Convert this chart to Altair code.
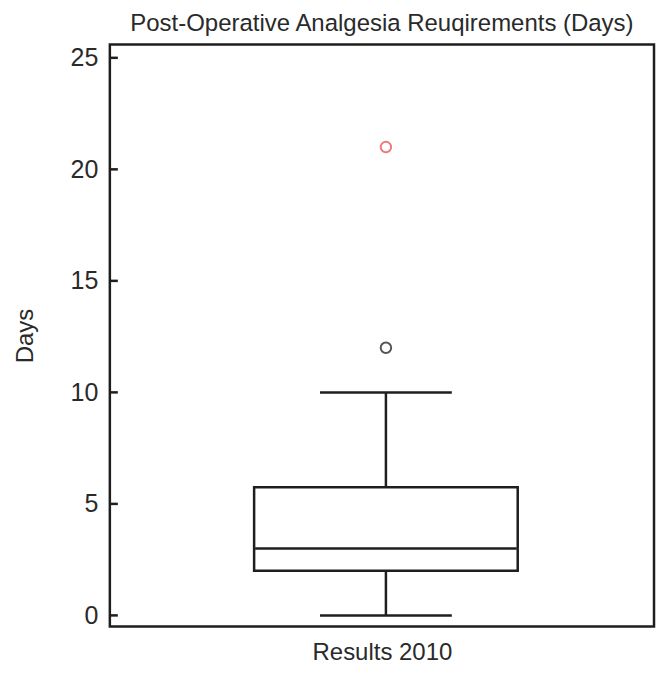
import altair as alt
import pandas as pd

# Summary statistics
group = ["Results 2010"]
whisker_low = [0]
q1 = [2]
median = [3]
q3 = [5.75]
whisker_high = [10]
outlier_values = [12, 21]
outlier_kind = ["near", "far"]
y_ticks = [0, 5, 10, 15, 20, 25]

stats = pd.DataFrame({
    "group": group, "lo": whisker_low, "q1": q1, "med": median,
    "q3": q3, "hi": whisker_high,
})
outliers = pd.DataFrame({
    "group": group * len(outlier_values),
    "value": outlier_values,
    "kind": outlier_kind,
})
ticks_df = pd.DataFrame({"t": y_ticks})

FONT = "Liberation Sans"
INK = "#1e1e1e"
TXT = "#2a2a2a"
SHIFT = 4
LW = 2.5

yscale = alt.Scale(domain=[-0.5, 25.6], nice=False, zero=False)
xenc = alt.X("group:N", title="Results 2010",
             axis=alt.Axis(labels=False, ticks=False, domain=False,
                           titlePadding=14, titleFontSize=24,
                           titleFont=FONT, titleColor=TXT,
                           titleFontWeight="normal"))
yaxis = alt.Axis(values=y_ticks, ticks=False, domain=False, grid=False,
                 labelFontSize=25, labelFont=FONT, labelColor=TXT,
                 labelPadding=12, title="Days", titleFontSize=24,
                 titleFont=FONT, titleColor=TXT,
                 titleFontWeight="normal", titlePadding=33)

base = alt.Chart(stats)

lower_whisker = base.mark_rule(color=INK, strokeWidth=LW, xOffset=SHIFT).encode(
    x=xenc, y=alt.Y("lo:Q", scale=yscale, axis=yaxis), y2="q1:Q")
upper_whisker = base.mark_rule(color=INK, strokeWidth=LW, xOffset=SHIFT).encode(
    x=xenc, y=alt.Y("q3:Q", scale=yscale), y2="hi:Q")
box = base.mark_bar(size=264, fill="white", stroke=INK, strokeWidth=LW,
                    xOffset=SHIFT).encode(
    x=xenc, y=alt.Y("q1:Q", scale=yscale), y2="q3:Q")
med = base.mark_tick(size=262, thickness=LW, color=INK, opacity=1,
                     xOffset=SHIFT).encode(
    x=xenc, y=alt.Y("med:Q", scale=yscale))
cap_lo = base.mark_tick(size=132, thickness=LW, color=INK, opacity=1,
                        xOffset=SHIFT).encode(
    x=xenc, y=alt.Y("lo:Q", scale=yscale))
cap_hi = base.mark_tick(size=132, thickness=LW, color=INK, opacity=1,
                        xOffset=SHIFT).encode(
    x=xenc, y=alt.Y("hi:Q", scale=yscale))
pts = alt.Chart(outliers).mark_point(shape="circle", filled=False, size=110,
                                     strokeWidth=2, opacity=1,
                                     xOffset=SHIFT).encode(
    x=xenc, y=alt.Y("value:Q", scale=yscale),
    color=alt.Color("kind:N",
                    scale=alt.Scale(domain=["near", "far"],
                                    range=["#555555", "#f07a7a"]),
                    legend=None))
inner_ticks = alt.Chart(ticks_df).mark_rule(color=INK, strokeWidth=LW).encode(
    x=alt.value(0), x2=alt.value(8), y=alt.Y("t:Q", scale=yscale))

chart = alt.layer(box, lower_whisker, upper_whisker, med, cap_lo, cap_hi,
                  pts, inner_ticks).properties(
    width=545, height=583,
    autosize=alt.AutoSizeParams(type="none"),
    padding={"left": 102, "top": 36, "right": 6, "bottom": 42},
    title=alt.TitleParams("Post-Operative Analgesia Reuqirements (Days)",
                          fontSize=24, font=FONT, fontWeight="normal",
                          color=TXT, offset=8, anchor="middle"),
).configure_view(stroke=INK, strokeWidth=LW).configure_axis(grid=False)

chart.save("out.html", embed_options={"renderer": "svg", "actions": False})
